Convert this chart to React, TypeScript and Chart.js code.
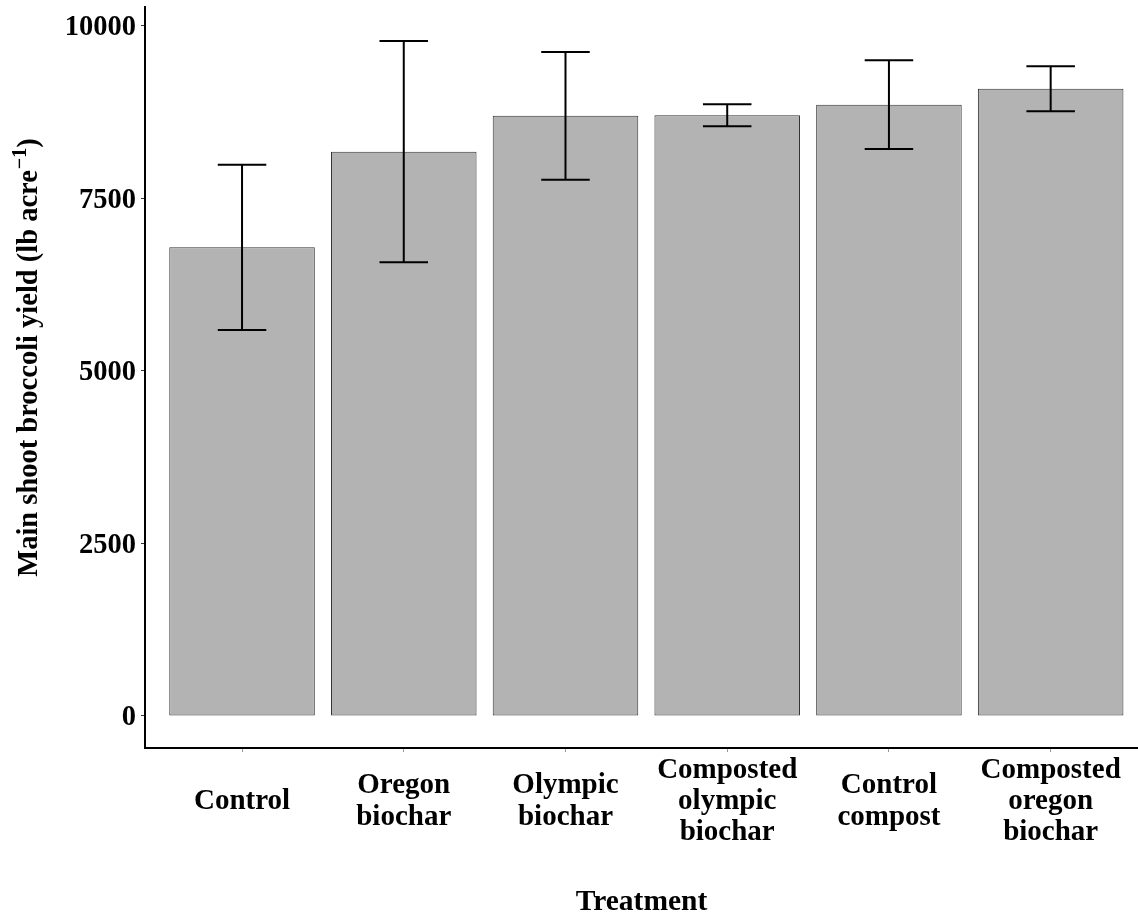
import React, { useEffect, useRef } from 'react';
import { Chart, registerables } from 'chart.js';

Chart.register(...registerables);

// ---- data ----
const treatments: string[][] = [
  ['Control'],
  ['Oregon', 'biochar'],
  ['Olympic', 'biochar'],
  ['Composted', 'olympic', 'biochar'],
  ['Control', 'compost'],
  ['Composted', 'oregon', 'biochar'],
];
const meanYield = [6792, 8179, 8698, 8705, 8860, 9090];
const seYield = [1198, 1604, 925, 160, 643, 326];
const yTicks = [0, 2500, 5000, 7500, 10000];

const xTitle = 'Treatment';
const yTitleMain = 'Main shoot broccoli yield (lb acre';
const yTitleSup = '\u22121';
const yTitleEnd = ')';

// ---- styling ----
const FONT_FAMILY = "'Liberation Serif', 'Times New Roman', serif";
const CAP_WIDTH = 0.3;
const Y_MIN = -464;
const Y_MAX = 10275;
const X_MIN = -0.6;
const X_MAX = 5.54;

export default function App() {
  const ref = useRef<HTMLCanvasElement>(null);

  useEffect(() => {
    const canvas = ref.current;
    if (!canvas) return;
    const xTickFont = { family: FONT_FAMILY, size: 29, weight: 'bold' as const, lineHeight: 1.07 };
    const yTickFont = { family: FONT_FAMILY, size: 28.5, weight: 'bold' as const, lineHeight: 1.2 };
    const titleFont = { family: FONT_FAMILY, size: 29.5, weight: 'bold' as const, lineHeight: 1.2 };

    const errorBars = {
      id: 'errorBars',
      afterDatasetsDraw(chart: any) {
        const { ctx, scales } = chart;
        const x = scales.x;
        const y = scales.y;
        ctx.save();
        ctx.strokeStyle = '#000000';
        ctx.lineWidth = 2;
        meanYield.forEach((m, i) => {
          const cx = x.getPixelForValue(i);
          const l = x.getPixelForValue(i - CAP_WIDTH / 2);
          const r = x.getPixelForValue(i + CAP_WIDTH / 2);
          const yt = y.getPixelForValue(m + seYield[i]);
          const yb = y.getPixelForValue(m - seYield[i]);
          ctx.beginPath();
          ctx.moveTo(cx, yt);
          ctx.lineTo(cx, yb);
          ctx.moveTo(l, yt);
          ctx.lineTo(r, yt);
          ctx.moveTo(l, yb);
          ctx.lineTo(r, yb);
          ctx.stroke();
        });
        ctx.restore();
      },
    };

    const yTitlePlugin = {
      id: 'yTitle',
      afterDraw(chart: any) {
        const { ctx } = chart;
        const mainFont = `bold 28.5px ${FONT_FAMILY}`;
        const supFont = `bold 20px ${FONT_FAMILY}`;
        ctx.save();
        ctx.font = mainFont;
        const w1 = ctx.measureText(yTitleMain).width;
        const w3 = ctx.measureText(yTitleEnd).width;
        ctx.font = supFont;
        const w2 = ctx.measureText(yTitleSup).width;
        const total = w1 + w2 + 1 + w3;
        const centerY = 357.5;
        const baselineX = 36.5;
        ctx.translate(baselineX, centerY);
        ctx.rotate(-Math.PI / 2);
        ctx.fillStyle = '#000000';
        ctx.textBaseline = 'alphabetic';
        ctx.textAlign = 'left';
        let pos = -total / 2;
        ctx.font = mainFont;
        ctx.fillText(yTitleMain, pos, 0);
        pos += w1 + 1;
        ctx.font = supFont;
        ctx.fillText(yTitleSup, pos, -11);
        pos += w2;
        ctx.font = mainFont;
        ctx.fillText(yTitleEnd, pos, 0);
        ctx.restore();
      },
    };

    const chart = new Chart(canvas, {
      type: 'bar',
      data: {
        datasets: [
          {
            data: meanYield.map((v, i) => ({ x: i, y: v })),
            backgroundColor: '#B3B3B3',
            borderColor: '#333333',
            borderWidth: 1,
            borderSkipped: false,
            categoryPercentage: 0.9,
            barPercentage: 1,
          } as any,
        ],
      },
      options: {
        responsive: false,
        animation: false,
        devicePixelRatio: 1,
        layout: { padding: { top: 7, left: 0, right: 0, bottom: 0 } },
        plugins: { legend: { display: false }, tooltip: { enabled: false } },
        scales: {
          x: {
            type: 'linear',
            offset: false,
            min: X_MIN,
            max: X_MAX,
            afterBuildTicks: (s: any) => {
              s.ticks = treatments.map((_, i) => ({ value: i }));
            },
            afterFit: (s: any) => {
              s.height = 167;
              s.paddingLeft = 0;
              s.paddingRight = 0;
            },
            ticks: {
              callback: (v: any) => treatments[v as number],
              font: xTickFont,
              color: '#000000',
              padding: 18.5,
              crossAlign: 'center',
              maxRotation: 0,
              minRotation: 0,
              autoSkip: false,
            },
            grid: { offset: false, drawOnChartArea: false, tickLength: 4, color: '#999999', lineWidth: 1 },
            border: { display: true, color: '#000000', width: 2 },
            title: { display: true, text: xTitle, font: titleFont, color: '#000000', padding: { top: 0, bottom: -5 } },
          } as any,
          y: {
            type: 'linear',
            min: Y_MIN,
            max: Y_MAX,
            afterBuildTicks: (s: any) => {
              s.ticks = yTicks.map((v) => ({ value: v }));
            },
            afterFit: (s: any) => {
              s.width = 145;
              s.paddingTop = 0;
              s.paddingBottom = 0;
            },
            ticks: {
              callback: (v: any) => String(v),
              font: yTickFont,
              color: '#000000',
              padding: 5,
              labelOffset: 2,
            },
            grid: { drawOnChartArea: false, tickLength: 4, color: '#333333', lineWidth: 1 },
            border: { display: true, color: '#000000', width: 2 },
            title: { display: false },
          } as any,
        },
      },
      plugins: [errorBars, yTitlePlugin],
    });
    return () => chart.destroy();
  }, []);

  return (
    <div
      style={{
        position: 'absolute',
        left: 0,
        top: 0,
        width: 1138,
        height: 915,
        overflow: 'hidden',
        background: '#ffffff',
      }}
    >
      <canvas ref={ref} width={1138} height={915} />
    </div>
  );
}
